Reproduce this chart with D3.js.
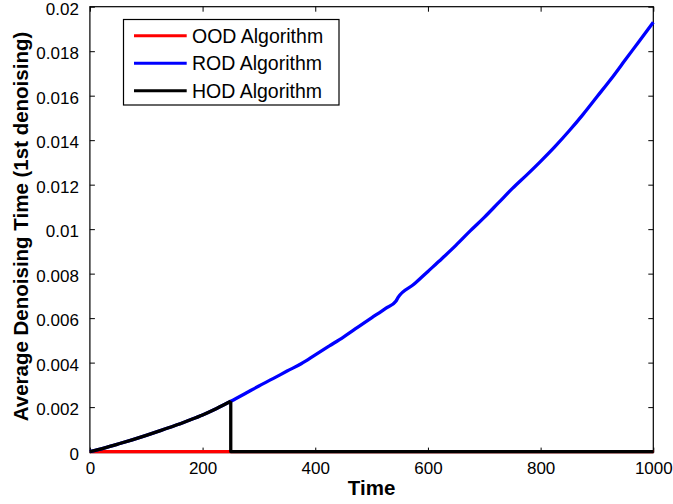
<!DOCTYPE html>
<html>
<head>
<meta charset="utf-8">
<script src="https://cdn.jsdelivr.net/npm/d3@7"></script>
<style>
  html, body { margin: 0; padding: 0; background: #fff; }
  svg { display: block; font-family: "Liberation Sans", Arial, Helvetica, sans-serif; }
</style>
</head>
<body>
<svg id="chart" width="673" height="504"></svg>
<script>
// Average denoising time for the 1st denoising step, per algorithm
const rodTimes = [0, 25, 50, 75, 100, 125, 150, 175, 200, 225, 250, 275, 300, 325, 350, 375,
  400, 425, 450, 475, 500, 525, 543, 547, 575, 600, 625, 650, 675, 700, 725, 750, 775, 800,
  825, 850, 875, 900, 925, 950, 975, 1000];
const rodValues = [0, 0.00016, 0.00034, 0.00053, 0.00073, 0.00094, 0.00116, 0.0014, 0.00165,
  0.00194, 0.00226, 0.0026, 0.00295, 0.00328, 0.00362, 0.00395, 0.00435, 0.00475, 0.00515,
  0.00558, 0.00601, 0.00644, 0.00676, 0.00693, 0.00752, 0.0081, 0.00868, 0.00928, 0.00992,
  0.01053, 0.01118, 0.01183, 0.01243, 0.01305, 0.0137, 0.0144, 0.01515, 0.01595, 0.01675,
  0.0176, 0.01845, 0.0193];

const hodTimes = [0, 25, 50, 75, 100, 125, 150, 175, 200, 225, 250, 250, 1000];
const hodValues = [0, 0.00016, 0.00034, 0.00053, 0.00073, 0.00094, 0.00116, 0.0014, 0.00165,
  0.00194, 0.00226, 0, 0];

const oodTimes = [0, 1000];
const oodValues = [0, 0];

const seriesNames = ["OOD Algorithm", "ROD Algorithm", "HOD Algorithm"];
const seriesColors = ["#ff0000", "#0000ff", "#000000"];

const xTicks = [0, 200, 400, 600, 800, 1000];
const xTickLabels = ["0", "200", "400", "600", "800", "1000"];
const yTicks = [0, 0.002, 0.004, 0.006, 0.008, 0.01, 0.012, 0.014, 0.016, 0.018, 0.02];
const yTickLabels = ["0", "0.002", "0.004", "0.006", "0.008", "0.01", "0.012", "0.014",
  "0.016", "0.018", "0.02"];

const xLabel = "Time";
const yLabel = "Average Denoising Time (1st denoising)";

// Plot frame
const frameLeft = 89.9, frameRight = 653.3, frameTop = 6.7, frameBottom = 452.6;
const svg = d3.select("#chart");

const x = d3.scaleLinear().domain([0, 1000]).range([frameLeft, frameRight]);
const y = d3.scaleLinear().domain([0, 0.02]).range([frameBottom - 1, frameTop]);

const tickLen = 5;
const tickFont = "17px";

// Frame box (drawn under the data lines)
svg.append("rect")
  .attr("x", frameLeft).attr("y", frameTop)
  .attr("width", frameRight - frameLeft).attr("height", frameBottom - frameTop)
  .attr("fill", "none").attr("stroke", "#000").attr("stroke-width", 1.2);

// Bottom axis (ticks point inward)
const xAxis = d3.axisBottom(x).tickValues(xTicks)
  .tickFormat((d, i) => xTickLabels[i]).tickSizeInner(-tickLen).tickSizeOuter(0).tickPadding(9);
const gx = svg.append("g").attr("transform", `translate(0,${frameBottom})`).call(xAxis);
gx.select(".domain").remove();
gx.selectAll("text").attr("font-size", tickFont).attr("fill", "#000")
  .attr("font-family", "Liberation Sans, Arial, sans-serif");
gx.selectAll("line").attr("stroke", "#000");

// Top axis ticks only
const gxt = svg.append("g").attr("transform", `translate(0,${frameTop})`)
  .call(d3.axisTop(x).tickValues(xTicks).tickFormat("").tickSizeInner(-tickLen).tickSizeOuter(0));
gxt.select(".domain").remove();
gxt.selectAll("line").attr("stroke", "#000");

// Left axis
const yAxis = d3.axisLeft(y).tickValues(yTicks)
  .tickFormat((d, i) => yTickLabels[i]).tickSizeInner(-tickLen).tickSizeOuter(0).tickPadding(11);
const gy = svg.append("g").attr("transform", `translate(${frameLeft},0)`).call(yAxis);
gy.select(".domain").remove();
gy.selectAll("text").attr("font-size", tickFont).attr("fill", "#000")
  .attr("font-family", "Liberation Sans, Arial, sans-serif")
  .attr("dy", "0.45em");
gy.selectAll("line").attr("stroke", "#000");

// Right axis ticks only
const gyr = svg.append("g").attr("transform", `translate(${frameRight},0)`)
  .call(d3.axisRight(y).tickValues(yTicks).tickFormat("").tickSizeInner(-tickLen).tickSizeOuter(0));
gyr.select(".domain").remove();
gyr.selectAll("line").attr("stroke", "#000");

// Series lines: smooth through the sampled points, straight across a step (repeated time)
const smooth = d3.line().x(d => x(d[0])).y(d => y(d[1])).curve(d3.curveMonotoneX);
const straight = d3.line().x(d => x(d[0])).y(d => y(d[1]));
const plot = svg.append("g");

function drawSeries(times, values, color) {
  const pts = times.map((t, j) => [t, values[j]]);
  // split at the first repeated time so the drop stays a sharp vertical step
  const k = pts.findIndex((p, j) => j > 0 && p[0] === pts[j - 1][0]);
  const pieces = k < 0 ? [[pts, smooth]] : [[pts.slice(0, k), smooth], [pts.slice(k - 1), straight]];
  pieces.forEach(([seg, gen]) => {
    plot.append("path")
      .attr("d", gen(seg))
      .attr("fill", "none")
      .attr("stroke", color)
      .attr("stroke-width", 3.3)
      .attr("stroke-linejoin", "round")
      .attr("stroke-linecap", "butt");
  });
}
drawSeries(oodTimes, oodValues, seriesColors[0]);
drawSeries(rodTimes, rodValues, seriesColors[1]);
drawSeries(hodTimes, hodValues, seriesColors[2]);

// Axis titles
svg.append("text")
  .attr("x", (frameLeft + frameRight) / 2).attr("y", 495)
  .attr("text-anchor", "middle")
  .attr("font-size", "20.5px").attr("font-weight", "bold")
  .text(xLabel);

svg.append("text")
  .attr("transform", `translate(28,${(30 + 423) / 2}) rotate(-90)`)
  .attr("text-anchor", "middle")
  .attr("font-size", "20.5px").attr("font-weight", "bold")
  .text(yLabel);

// Legend
const legend = svg.append("g");
legend.append("rect")
  .attr("x", 123.5).attr("y", 19.5).attr("width", 215.5).attr("height", 85.5)
  .attr("fill", "#fff").attr("stroke", "#000").attr("stroke-width", 1.2);
const legendY = [35.7, 63.3, 90.7];
seriesNames.forEach((name, i) => {
  legend.append("line")
    .attr("x1", 134).attr("x2", 186.7)
    .attr("y1", legendY[i]).attr("y2", legendY[i])
    .attr("stroke", seriesColors[i]).attr("stroke-width", 3);
  legend.append("text")
    .attr("x", 192).attr("y", legendY[i] + 7)
    .attr("font-size", "19.5px")
    .text(name);
});
</script>
</body>
</html>
